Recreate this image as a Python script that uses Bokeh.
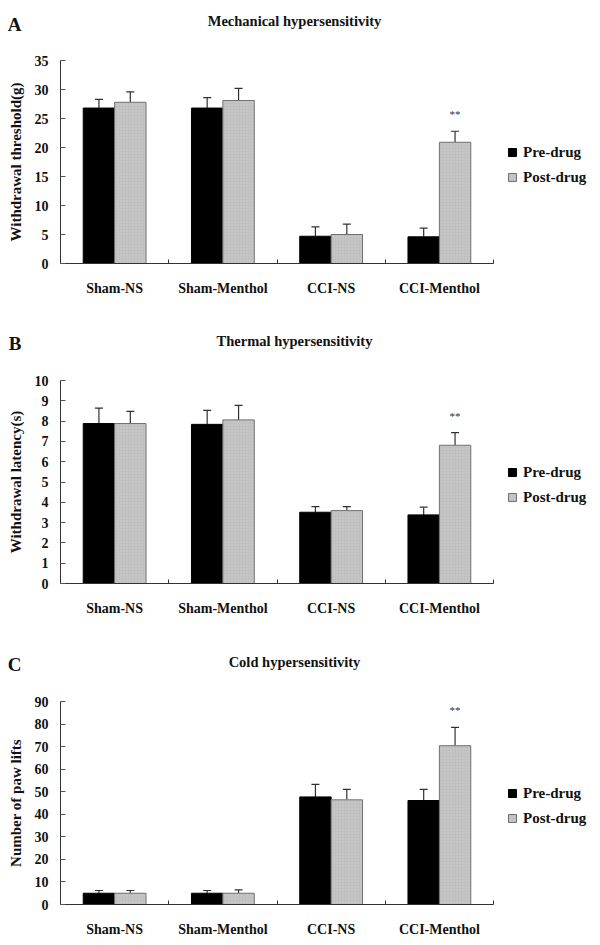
from bokeh.plotting import figure
from bokeh.models import (ColumnDataSource, Range1d, FixedTicker, Label, Legend,
                          LegendItem, Whisker, TeeHead)
from bokeh.layouts import column
from bokeh.core.properties import value
from bokeh.embed import file_html
from bokeh.resources import INLINE

# ---------------- data ----------------
groups = ["Sham-NS", "Sham-Menthol", "CCI-NS", "CCI-Menthol"]
series = ["Pre-drug", "Post-drug"]
sig = ["", "", "", "**"]

mech_pre = [26.8, 26.8, 4.7, 4.6]
mech_pre_err = [1.5, 1.8, 1.6, 1.5]
mech_post = [27.8, 28.1, 5.0, 20.9]
mech_post_err = [1.8, 2.1, 1.8, 1.9]

therm_pre = [7.88, 7.84, 3.51, 3.38]
therm_pre_err = [0.76, 0.69, 0.28, 0.38]
therm_post = [7.88, 8.06, 3.59, 6.81]
therm_post_err = [0.60, 0.71, 0.20, 0.62]

cold_pre = [5.0, 5.0, 47.7, 46.1]
cold_pre_err = [1.2, 1.2, 5.6, 4.9]
cold_post = [5.0, 5.0, 46.4, 70.4]
cold_post_err = [1.2, 1.5, 4.6, 8.1]

panels = [
    dict(letter="A", title="Mechanical hypersensitivity", ylabel="Withdrawal threshold(g)",
         ymax=35, ystep=5, pre=mech_pre, pre_err=mech_pre_err, post=mech_post,
         post_err=mech_post_err, head=44, letter_y=23.5, title_y=20, bottom=57),
    dict(letter="B", title="Thermal hypersensitivity", ylabel="Withdrawal latency(s)",
         ymax=10, ystep=1, pre=therm_pre, pre_err=therm_pre_err, post=therm_post,
         post_err=therm_post_err, head=44, letter_y=23, title_y=20, bottom=57),
    dict(letter="C", title="Cold hypersensitivity", ylabel="Number of paw lifts",
         ymax=90, ystep=10, pre=cold_pre, pre_err=cold_pre_err, post=cold_post,
         post_err=cold_post_err, head=45, letter_y=24, title_y=21, bottom=41),
]

FONT = "Liberation Serif"
W = 600
FW, FH = 433, 203
LEFT, TOP = 60, 16
RIGHT = W - LEFT - FW
BAR_W = 0.29
PRE_COLOR = "#000000"
POST_COLOR = "#c6c6c6"
TXT = "#111111"


def make_header(cfg):
    h = cfg["head"]
    p = figure(frame_width=FW, frame_height=h, x_range=Range1d(0, 1),
               y_range=Range1d(h, 0), x_axis_type=None,
               min_border_left=LEFT, min_border_right=RIGHT, min_border_top=0,
               min_border_bottom=0, output_backend="svg", toolbar_location=None)
    p.outline_line_color = None
    p.grid.visible = False
    # panel letter drawn as the single tick label of the header's left axis
    ya = p.yaxis[0]
    ya.ticker = FixedTicker(ticks=[cfg["letter_y"]])
    ya.major_label_overrides = {cfg["letter_y"]: cfg["letter"]}
    ya.axis_line_color = None
    ya.major_tick_line_color = None
    ya.minor_tick_line_color = None
    ya.major_label_standoff = 33
    ya.major_label_text_font = FONT
    ya.major_label_text_font_style = "bold"
    ya.major_label_text_font_size = "19px"
    ya.major_label_text_color = TXT
    p.add_layout(Label(x=234, y=h - cfg["title_y"], x_units="screen", y_units="screen",
                       text=cfg["title"], text_font=FONT, text_font_style="bold",
                       text_font_size="14.5px", text_align="center",
                       text_baseline="middle", text_color=TXT))
    return p


def make_chart(cfg):
    n = len(groups)
    centers = [i + 0.5 for i in range(n)]
    p = figure(frame_width=FW, frame_height=FH,
               min_border_left=LEFT, min_border_right=RIGHT,
               min_border_top=TOP, min_border_bottom=cfg["bottom"],
               x_range=Range1d(0, n), y_range=Range1d(0, cfg["ymax"]),
               output_backend="svg", toolbar_location=None,
               background_fill_color="white", border_fill_color="white")
    p.outline_line_color = None
    p.xgrid.visible = False
    p.ygrid.visible = False

    pre_src = ColumnDataSource(dict(
        x=[c - BAR_W / 2 for c in centers], top=cfg["pre"],
        upper=[v + e for v, e in zip(cfg["pre"], cfg["pre_err"])]))
    post_src = ColumnDataSource(dict(
        x=[c + BAR_W / 2 for c in centers], top=cfg["post"],
        upper=[v + e for v, e in zip(cfg["post"], cfg["post_err"])],
        sig=sig))

    r_pre = p.vbar(x="x", top="top", bottom=0, width=BAR_W, source=pre_src,
                   fill_color=PRE_COLOR, line_color="#000000", line_width=1)
    r_post = p.vbar(x="x", top="top", bottom=0, width=BAR_W, source=post_src,
                    fill_color=POST_COLOR, line_color="#707070", line_width=1,
                    hatch_pattern="cross", hatch_color="#b4b4b4", hatch_scale=3,
                    hatch_weight=0.6, hatch_alpha=0.5)

    for src in (pre_src, post_src):
        w = Whisker(source=src, base="x", lower="top", upper="upper",
                    dimension="height", line_color="#303030", line_width=1.2,
                    upper_head=TeeHead(size=8, line_color="#303030", line_width=1.2),
                    lower_head=None)
        p.add_layout(w)

    p.text(x="x", y="upper", text="sig", source=post_src, text_align="center",
           text_baseline="middle", y_offset=-17, text_font=value(FONT),
           text_font_size="11px", text_color="#333333")

    # x axis: labels at group centres, small ticks at group boundaries
    xa = p.xaxis[0]
    xa.ticker = FixedTicker(ticks=centers, minor_ticks=[1, 2, 3, 4])
    xa.major_label_overrides = {c: g for c, g in zip(centers, groups)}
    xa.major_tick_in = 0
    xa.major_tick_out = 0
    xa.minor_tick_in = 4
    xa.minor_tick_out = 0
    xa.minor_tick_line_color = "#333333"
    xa.axis_line_color = "#333333"
    xa.major_label_standoff = 17
    xa.major_label_text_font = FONT
    xa.major_label_text_font_style = "bold"
    xa.major_label_text_font_size = "14px"
    xa.major_label_text_color = TXT

    # y axis
    ya = p.yaxis[0]
    ya.ticker = FixedTicker(ticks=list(range(0, cfg["ymax"] + 1, cfg["ystep"])))
    ya.minor_tick_line_color = None
    ya.major_tick_in = 5
    ya.major_tick_out = 0
    ya.major_tick_line_color = "#555555"
    ya.axis_line_color = "#333333"
    ya.major_label_standoff = 12
    ya.major_label_text_font = FONT
    ya.major_label_text_font_style = "bold"
    ya.major_label_text_font_size = "14px"
    ya.major_label_text_color = TXT
    ya.axis_label = cfg["ylabel"]
    ya.axis_label_standoff = 8
    ya.axis_label_text_font = FONT
    ya.axis_label_text_font_style = "bold"
    ya.axis_label_text_font_size = "15px"
    ya.axis_label_text_color = TXT

    legend = Legend(items=[LegendItem(label=series[0], renderers=[r_pre]),
                           LegendItem(label=series[1], renderers=[r_post])],
                    location=(14, 76), orientation="vertical",
                    padding=0, margin=0, spacing=5,
                    glyph_width=10, glyph_height=10, label_height=20,
                    label_standoff=6, border_line_color=None,
                    background_fill_alpha=0,
                    label_text_font=FONT, label_text_font_style="bold",
                    label_text_font_size="15px", label_text_color=TXT)
    p.add_layout(legend, "right")
    return p


figs = []
for cfg in panels:
    figs.append(make_header(cfg))
    figs.append(make_chart(cfg))
layout = column(*figs, spacing=0)
open("out.html", "w").write(file_html(layout, INLINE))
